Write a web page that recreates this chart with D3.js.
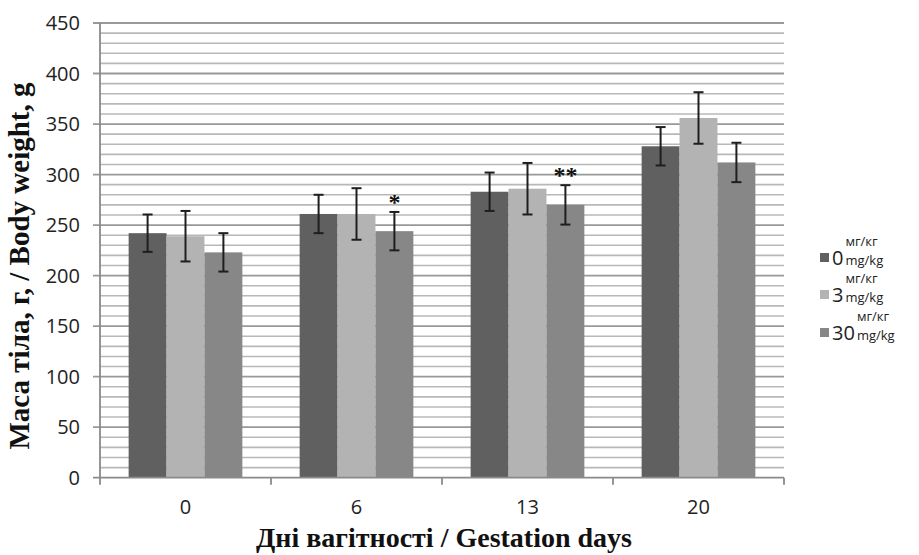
<!DOCTYPE html>
<html><head><meta charset="utf-8">
<script src="https://cdn.jsdelivr.net/npm/d3@7"></script>
<style>body{margin:0;background:#fff}svg{display:block}</style>
</head><body>
<svg id="c" width="919" height="555"></svg>
<script>
const days = ["0", "6", "13", "20"];
const seriesNames = ["0", "3", "30"];
const dose0 = [242, 261, 283, 328];
const dose3 = [239, 261, 286, 356];
const dose30 = [223, 244, 270, 312];
const err0 = [18.5, 19, 19, 19];
const err3 = [25, 25.5, 25.5, 25.5];
const err30 = [19, 19, 19.5, 19.5];
const signif = [["6", 2, "*"], ["13", 2, "**"]];
const yTicks = [0, 50, 100, 150, 200, 250, 300, 350, 400, 450];
const colors = ["#606060", "#b3b3b3", "#878787"];

const values = [dose0, dose3, dose30];
const errs = [err0, err3, err30];

const svg = d3.select("#c");
const L = 100, R = 784, T = 23, B = 477.7;
const x = d3.scaleBand().domain(days).range([L, R]).paddingInner(0.335).paddingOuter(0.1675);
const x1 = d3.scaleBand().domain(d3.range(3)).range([0, x.bandwidth()]);
const y = d3.scaleLinear().domain([0, 450]).range([B, T]);

// gridlines
const g = svg.append("g");
g.selectAll("line.minor").data(d3.range(0, 451, 10).filter(v => v % 50 !== 0)).join("line")
  .attr("x1", L).attr("x2", R).attr("y1", d => y(d)).attr("y2", d => y(d))
  .attr("stroke", "#b8b8b8").attr("stroke-width", 1.6);
g.selectAll("line.major").data(yTicks.filter(v => v > 0)).join("line")
  .attr("x1", L - 7).attr("x2", R).attr("y1", d => y(d)).attr("y2", d => y(d))
  .attr("stroke", "#999").attr("stroke-width", 1.8);

// bars
const groups = svg.append("g").selectAll("g").data(days).join("g")
  .attr("transform", d => `translate(${x(d)},0)`);
groups.selectAll("rect").data((d, i) => values.map((s, k) => ({k, v: s[i]}))).join("rect")
  .attr("x", d => x1(d.k)).attr("width", x1.bandwidth())
  .attr("y", d => y(d.v)).attr("height", d => B - y(d.v))
  .attr("fill", d => colors[d.k]);

// error bars
groups.each(function(d, i) {
  const gg = d3.select(this);
  values.forEach((s, k) => {
    const cx = x1(k) + x1.bandwidth() / 2;
    const hi = y(s[i] + errs[k][i]), lo = y(s[i] - errs[k][i]);
    gg.append("line").attr("x1", cx).attr("x2", cx).attr("y1", hi).attr("y2", lo)
      .attr("stroke", "#1e1e1e").attr("stroke-width", 2);
    [hi, lo].forEach(yy => gg.append("line").attr("x1", cx - 5).attr("x2", cx + 5)
      .attr("y1", yy).attr("y2", yy).attr("stroke", "#1e1e1e").attr("stroke-width", 2));
  });
});

// significance marks
signif.forEach(([day, k, txt]) => {
  const i = days.indexOf(day);
  const cx = x(day) + x1(k) + x1.bandwidth() / 2;
  svg.append("text").attr("x", cx).attr("y", y(values[k][i] + errs[k][i]) - 2)
    .attr("text-anchor", "middle").attr("font-family", "Liberation Serif").attr("font-weight", "bold")
    .attr("font-size", 24).attr("fill", "#111").text(txt);
});

// axes
svg.append("line").attr("x1", L).attr("x2", L).attr("y1", T).attr("y2", B)
  .attr("stroke", "#8a8a8a").attr("stroke-width", 1.8);
svg.append("line").attr("x1", L - 7).attr("x2", R).attr("y1", B).attr("y2", B)
  .attr("stroke", "#8a8a8a").attr("stroke-width", 1.8);
const bounds = days.map(d => x(d) - x.step() * x.paddingInner() / 2).concat([R]);
svg.selectAll("line.xt").data(bounds).join("line")
  .attr("x1", d => d).attr("x2", d => d).attr("y1", B).attr("y2", B + 7)
  .attr("stroke", "#8a8a8a").attr("stroke-width", 1.8);

// tick labels
svg.selectAll("text.yl").data(yTicks).join("text")
  .attr("x", 80).attr("y", d => y(d)).attr("dy", "0.36em").attr("text-anchor", "end")
  .attr("font-family", "Open Sans").attr("font-size", 20).attr("fill", "#222").text(d => d);
svg.selectAll("text.xl").data(days).join("text")
  .attr("x", d => x(d) + x.bandwidth() / 2).attr("y", 514).attr("text-anchor", "middle")
  .attr("font-family", "Open Sans").attr("font-size", 20).attr("fill", "#222").text(d => d);

// titles
svg.append("text").attr("x", 444).attr("y", 547).attr("text-anchor", "middle")
  .attr("font-family", "Liberation Serif").attr("font-weight", "bold").attr("font-size", 28)
  .attr("fill", "#111").text("Дні вагітності / Gestation days");
svg.append("text").attr("transform", "translate(29,266) rotate(-90)").attr("text-anchor", "middle")
  .attr("font-family", "Liberation Serif").attr("font-weight", "bold").attr("font-size", 29)
  .attr("fill", "#111").text("Маса тіла, г, / Body weight, g");

// legend
const leg = svg.append("g");
const ly = [265, 302, 340];
seriesNames.forEach((n, k) => {
  const gg = leg.append("g").attr("transform", `translate(820,${ly[k]})`);
  gg.append("rect").attr("x", 0).attr("y", -12).attr("width", 9).attr("height", 9).attr("fill", colors[k]);
  const t = gg.append("text").attr("x", 12).attr("y", 0).attr("font-family", "Open Sans").attr("font-size", 20).attr("fill", "#222").text(n);
  const w = t.node().getComputedTextLength();
  gg.append("text").attr("x", 12 + w + 2).attr("y", -19).attr("font-family", "Open Sans").attr("font-size", 13).attr("fill", "#222").text("мг/кг");
  gg.append("text").attr("x", 12 + w + 2).attr("y", 0).attr("font-family", "Open Sans").attr("font-size", 13).attr("fill", "#222").text("mg/kg");
});
</script>
</body></html>
